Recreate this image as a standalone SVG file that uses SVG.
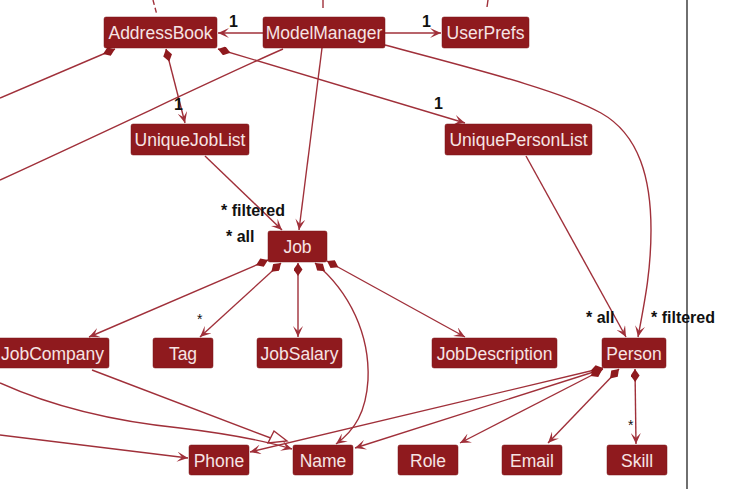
<svg xmlns="http://www.w3.org/2000/svg" width="736" height="489" viewBox="0 0 736 489">
<defs>
<style>
.node rect{fill:#8F1A1E;stroke:#7a1418;stroke-width:0.5}
.node text{font-family:"Liberation Sans",Arial,sans-serif;font-size:17.5px;fill:#F6E4E4;text-anchor:middle}
.c path,.c line{fill:none;stroke:#A0303A;stroke-width:1.4}
.lbl{font-family:"Liberation Sans",Arial,sans-serif;font-size:16px;font-weight:bold;fill:#111}
.star{font-family:"Liberation Sans",Arial,sans-serif;font-size:14px;fill:#111}
.dash{stroke-dasharray:5,3}
</style>
<marker id="arr" viewBox="0 0 11 10" refX="11" refY="5" markerWidth="11" markerHeight="10" markerUnits="userSpaceOnUse" orient="auto">
<path d="M0,0 L11,5 L0,10 L5,5 Z" fill="#A0303A"/>
</marker>
<marker id="dia" viewBox="0 0 13 9" refX="0" refY="4.5" markerWidth="13" markerHeight="9" markerUnits="userSpaceOnUse" orient="auto">
<path d="M0,4.5 L6.5,0 L13,4.5 L6.5,9 Z" fill="#8F1A1E"/>
</marker>
</defs>
<rect width="736" height="489" fill="#ffffff"/>
<line x1="687" y1="0" x2="687" y2="489" stroke="#222" stroke-width="1.3"/>

<g id="connectors" class="c">
<path class="dash" d="M153,0 L157,15"/>
<path d="M323,0 L323,8"/>
<path d="M488,0 L487,7"/>
<path d="M263,33 L218,33" marker-end="url(#arr)"/>
<path d="M385,33 L441,33" marker-end="url(#arr)"/>
<path d="M166,49 L185,123" marker-start="url(#dia)" marker-end="url(#arr)"/>
<path d="M218,49 L465,123" marker-start="url(#dia)" marker-end="url(#arr)"/>
<path d="M115,49 L0,98" marker-start="url(#dia)"/>
<path d="M283,49 C230,72 120,125 0,180"/>
<path d="M322,48 L299,230" marker-end="url(#arr)"/>
<path d="M385,45 C470,68 560,90 601,113 C640,135 651,180 651,230 C651,270 645,300 638,337" marker-end="url(#arr)"/>
<path d="M205,156 L282,230" marker-end="url(#arr)"/>
<path d="M526,156 L626,337" marker-end="url(#arr)"/>
<path d="M268,260 L89,337" marker-start="url(#dia)" marker-end="url(#arr)"/>
<path d="M281,263 L200,337" marker-start="url(#dia)" marker-end="url(#arr)"/>
<path d="M298,263 L298,337" marker-start="url(#dia)" marker-end="url(#arr)"/>
<path d="M315,263 C350,292 370,335 368,380 C366,412 355,430 336,444" marker-start="url(#dia)" marker-end="url(#arr)"/>
<path d="M327,261 L465,337" marker-start="url(#dia)" marker-end="url(#arr)"/>
<path d="M92,370 L276,440"/>
<polygon points="274,431 268,443 287,441" fill="#ffffff" stroke="#A0303A" stroke-width="1.4"/>
<path d="M0,383 C60,410 120,422 180,428 C230,434 262,440 292,449" marker-end="url(#arr)"/>
<path d="M0,435 L188,458" marker-end="url(#arr)"/>
<path d="M603,368 L250,452" marker-start="url(#dia)" marker-end="url(#arr)"/>
<path d="M603,369 L355,448" marker-start="url(#dia)" marker-end="url(#arr)"/>
<path d="M602,370 L460,443" marker-start="url(#dia)" marker-end="url(#arr)"/>
<path d="M619,369 L548,443" marker-start="url(#dia)" marker-end="url(#arr)"/>
<path d="M635,369 L636,444" marker-start="url(#dia)" marker-end="url(#arr)"/>
</g>

<g id="labels">
<text class="lbl" x="229" y="27">1</text>
<text class="lbl" x="422" y="27">1</text>
<text class="lbl" x="174" y="110">1</text>
<text class="lbl" x="434" y="109">1</text>
<text class="lbl" x="221" y="216">* filtered</text>
<text class="lbl" x="226" y="242">* all</text>
<text class="lbl" x="586" y="323">* all</text>
<text class="lbl" x="651" y="323">* filtered</text>
<text class="star" x="197" y="324">*</text>
<text class="star" x="628" y="430">*</text>
</g>

<g id="AddressBook" class="node"><rect x="104" y="17" width="113" height="31" rx="2"/><text x="160.5" y="39">AddressBook</text></g>
<g id="ModelManager" class="node"><rect x="263" y="17" width="122" height="31" rx="2"/><text x="324" y="39">ModelManager</text></g>
<g id="UserPrefs" class="node"><rect x="442" y="17" width="87" height="31" rx="2"/><text x="485.5" y="39">UserPrefs</text></g>
<g id="UniqueJobList" class="node"><rect x="131" y="124" width="118" height="31" rx="2"/><text x="190" y="146">UniqueJobList</text></g>
<g id="UniquePersonList" class="node"><rect x="445" y="124" width="147" height="31" rx="2"/><text x="518.5" y="146">UniquePersonList</text></g>
<g id="Job" class="node"><rect x="268" y="231" width="59" height="31" rx="2"/><text x="297.5" y="253">Job</text></g>
<g id="JobCompany" class="node"><rect x="-4" y="338" width="113" height="30" rx="2"/><text x="52.5" y="360">JobCompany</text></g>
<g id="Tag" class="node"><rect x="153" y="338" width="60" height="30" rx="2"/><text x="183" y="360">Tag</text></g>
<g id="JobSalary" class="node"><rect x="257" y="338" width="85" height="30" rx="2"/><text x="299.5" y="360">JobSalary</text></g>
<g id="JobDescription" class="node"><rect x="432" y="338" width="125" height="30" rx="2"/><text x="494.5" y="360">JobDescription</text></g>
<g id="Person" class="node"><rect x="602" y="338" width="64" height="30" rx="2"/><text x="634" y="360">Person</text></g>
<g id="Phone" class="node"><rect x="189" y="445" width="60" height="30" rx="2"/><text x="219" y="467">Phone</text></g>
<g id="Name" class="node"><rect x="293" y="445" width="60" height="30" rx="2"/><text x="323" y="467">Name</text></g>
<g id="Role" class="node"><rect x="398" y="445" width="60" height="30" rx="2"/><text x="428" y="467">Role</text></g>
<g id="Email" class="node"><rect x="502" y="445" width="60" height="30" rx="2"/><text x="532" y="467">Email</text></g>
<g id="Skill" class="node"><rect x="607" y="445" width="60" height="30" rx="2"/><text x="637" y="467">Skill</text></g>
</svg>
